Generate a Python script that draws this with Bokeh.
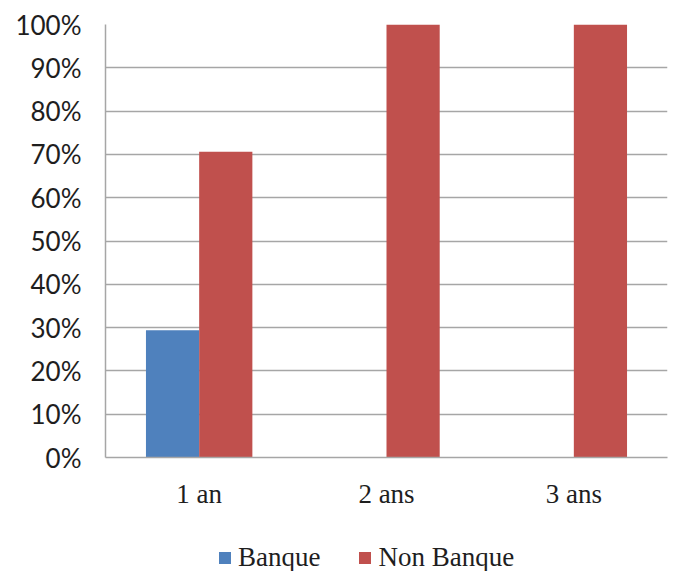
from bokeh.plotting import figure
from bokeh.layouts import column
from bokeh.models import ColumnDataSource, FactorRange, Legend, LegendItem, NumeralTickFormatter, FixedTicker, Range1d
from bokeh.transform import dodge
from bokeh.embed import file_html
from bokeh.resources import INLINE

categories = ["1 an", "2 ans", "3 ans"]
series_names = ["Banque", "Non Banque"]
banque = [0.294, 0.0, 0.0]
non_banque = [0.706, 1.0, 1.0]
y_ticks = [0.0, 0.1, 0.2, 0.3, 0.4, 0.5, 0.6, 0.7, 0.8, 0.9, 1.0]
colors = ["#4f81bd", "#c0504d"]

SERIF = "Liberation Serif"
SANS = "Lato"

src = ColumnDataSource(dict(cat=categories, banque=banque, non_banque=non_banque))

p = figure(x_range=FactorRange(*categories, range_padding=0), y_range=(0, 1),
           frame_width=562, frame_height=433, output_backend="svg", toolbar_location=None,
           min_border_left=105, min_border_right=3, min_border_top=24, min_border_bottom=0)

p.vbar(x=dodge("cat", -0.142, range=p.x_range), top="banque", width=0.284, source=src,
       fill_color=colors[0], line_color=None)
p.vbar(x=dodge("cat", 0.142, range=p.x_range), top="non_banque", width=0.284, source=src,
       fill_color=colors[1], line_color=None)

p.outline_line_color = None
p.xgrid.grid_line_color = None
p.ygrid.grid_line_color = "#a6a6a6"
p.ygrid.grid_line_width = 1.5
p.yaxis.ticker = FixedTicker(ticks=y_ticks)
p.yaxis.formatter = NumeralTickFormatter(format="0%")
for ax in (p.xaxis, p.yaxis):
    ax.axis_line_color = "#a6a6a6"
    ax.axis_line_width = 1.5
    ax.major_tick_line_color = None
    ax.minor_tick_line_color = None
    ax.major_label_text_color = "#1e1e1e"
p.yaxis.major_label_text_font = SANS
p.yaxis.major_label_text_font_size = "26px"
p.yaxis.major_label_standoff = 18
p.xaxis.major_label_text_font = SERIF
p.xaxis.major_label_text_font_size = "27px"
p.xaxis.major_label_standoff = 15

# legend strip below the chart (swatch glyphs lie outside the strip's visible range)
leg = figure(width=670, height=64, x_range=Range1d(0, 1), y_range=Range1d(0, 1),
             output_backend="svg", toolbar_location=None,
             min_border_left=0, min_border_right=0, min_border_top=0, min_border_bottom=0)
leg.axis.visible = False
leg.grid.visible = False
leg.outline_line_color = None
swatch = ColumnDataSource(dict(x=[-10.0], top=[0.0]))
items = []
for name, col in zip(series_names, colors):
    r = leg.vbar(x="x", top="top", width=0.1, source=swatch, fill_color=col, line_color=None)
    items.append(LegendItem(label=name, renderers=[r]))

legend = Legend(items=items, orientation="horizontal", location=(112, 2),
                label_text_font=SERIF, label_text_font_size="27px",
                label_text_color="#1e1e1e", border_line_color=None,
                background_fill_alpha=0,
                glyph_width=15, glyph_height=15, spacing=37, label_standoff=6,
                margin=0, padding=0)
leg.add_layout(legend, "center")

layout = column(p, leg, spacing=0)
open("out.html", "w").write(file_html(layout, INLINE))
